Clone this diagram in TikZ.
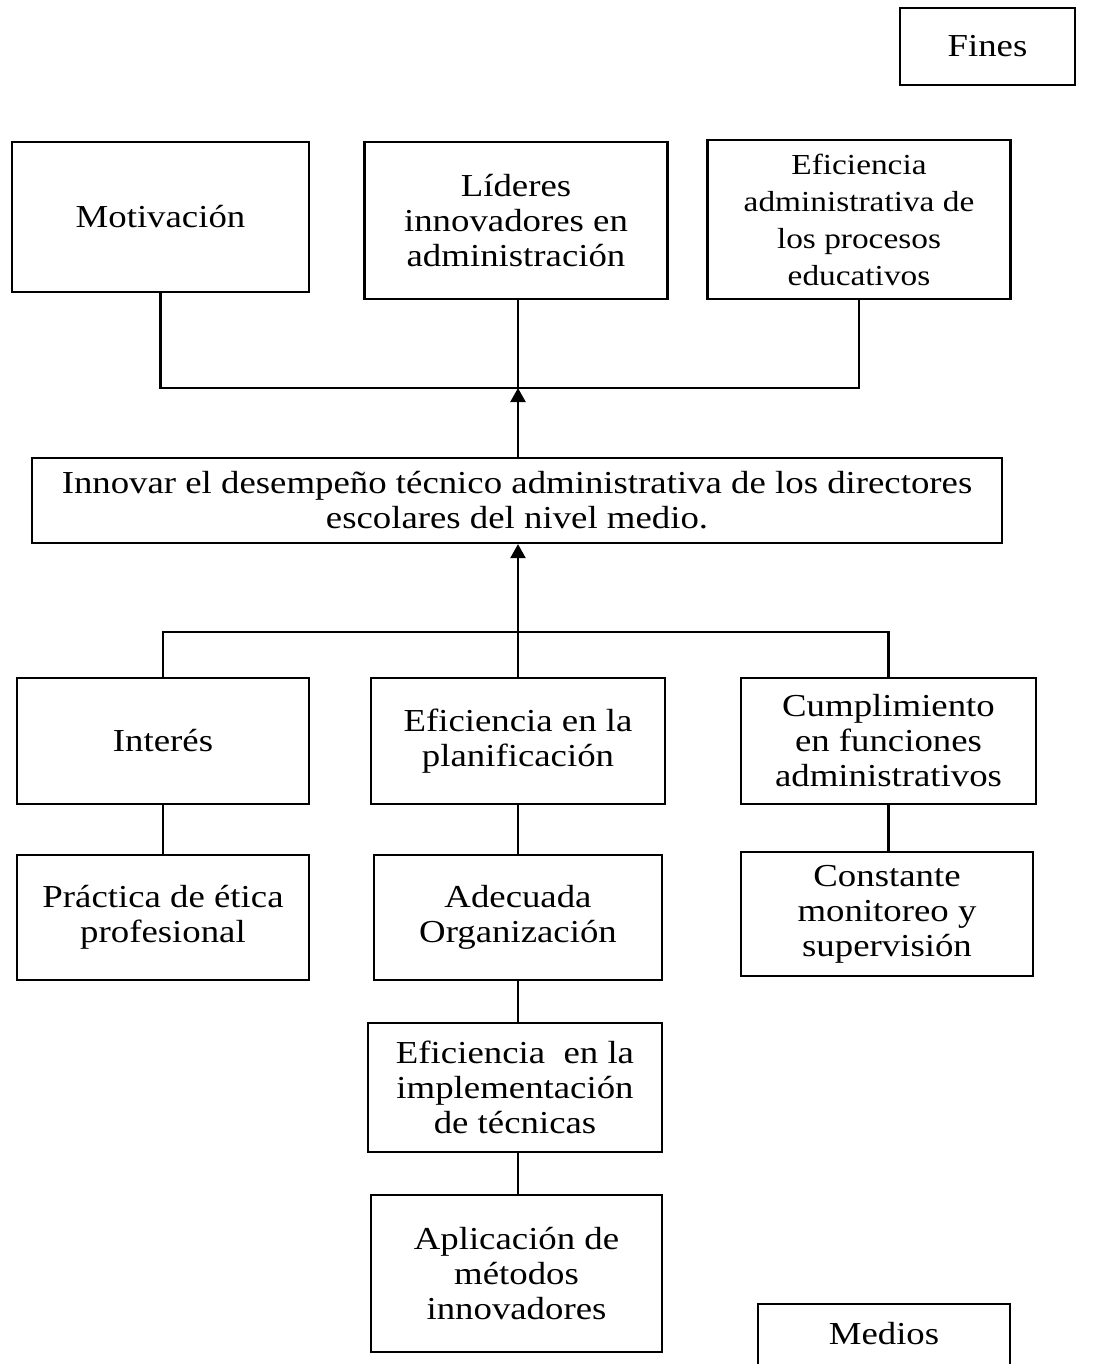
\documentclass[tikz,border=0pt]{standalone}
\usepackage{fontspec}
\setmainfont{Liberation Serif}[FakeStretch=1.15]
\usetikzlibrary{arrows.meta}

\begin{document}
\begin{tikzpicture}[
    x=0.5pt, y=-0.5pt,
    box/.style={rectangle, draw=black, line width=1.1pt, fill=white, align=center, inner sep=2pt,
        font=\fontsize{16}{17.5}\selectfont},
    link/.style={line width=1.1pt, black},
    arrow/.style={link, -{Triangle[length=7pt,width=7.5pt]}}
]
\useasboundingbox (0,0) rectangle (1105,1364);
\node[box, minimum width=87.5pt, minimum height=38.5pt] (fines) at (987.5,46.5) {Fines};
\node[box, minimum width=148.5pt, minimum height=75pt] (mot) at (160.5,217) {Motivación};
\node[box, minimum width=151.5pt, minimum height=78.5pt] (lid) at (516,220.5) {Líderes\\innovadores en\\administración};
\node[box, minimum width=151.5pt, minimum height=79.5pt, font=\fontsize{14.5}{18.5}\selectfont] (efa) at (859,219.5) {Eficiencia\\administrativa de\\los procesos\\educativos};
\node[box, minimum width=485pt, minimum height=42.5pt] (inn) at (517,500.5) {Innovar el desempeño técnico administrativa de los directores\\escolares del nivel medio.};
\node[box, minimum width=146pt, minimum height=63pt] (int) at (163,741) {Interés};
\node[box, minimum width=147pt, minimum height=63pt] (efp) at (518,741) {Eficiencia en la\\planificación};
\node[box, minimum width=147.5pt, minimum height=63pt] (cum) at (888.5,741) {Cumplimiento\\en funciones\\administrativos};
\node[box, minimum width=146pt, minimum height=62.5pt] (pra) at (163,917.5) {Práctica de ética\\profesional};
\node[box, minimum width=144pt, minimum height=62.5pt] (ade) at (518,917.5) {Adecuada\\Organización};
\node[box, minimum width=146pt, minimum height=62pt] (con) at (887,914) {Constante\\monitoreo y\\supervisión};
\node[box, minimum width=147pt, minimum height=64.5pt] (efi) at (515,1087.5) {Eficiencia\ \ en la\\implementación\\de técnicas};
\node[box, minimum width=145.5pt, minimum height=78.5pt] (apl) at (516.5,1273.5) {Aplicación de\\métodos\\innovadores};
\node[box, anchor=north, minimum width=126pt, inner ysep=0pt, text height=20pt, text depth=20pt] (medios) at (884,1303) {Medios};
\coordinate (top) at (518,388);
\coordinate (bot) at (518,632);
\draw[link] (mot.south) |- (top) -| (efa.south);
\draw[link] (lid.south -| top) -- (top);
\draw[arrow] (inn.north -| top) -- (top);
\draw[link] (int.north) |- (bot) -| (cum.north);
\draw[link] (efp.north) -- (efp.north |- bot);
\draw[arrow] (bot) -- (inn.south -| bot);
\draw[link] (int) -- (pra);
\draw[link] (efp) -- (ade);
\draw[link] (cum.south) -- (cum.south |- con.north);
\draw[link] (ade.south) -- (ade.south |- efi.north);
\draw[link] (efi.south -| ade.south) -- (apl.north -| ade.south);
\end{tikzpicture}
\end{document}
